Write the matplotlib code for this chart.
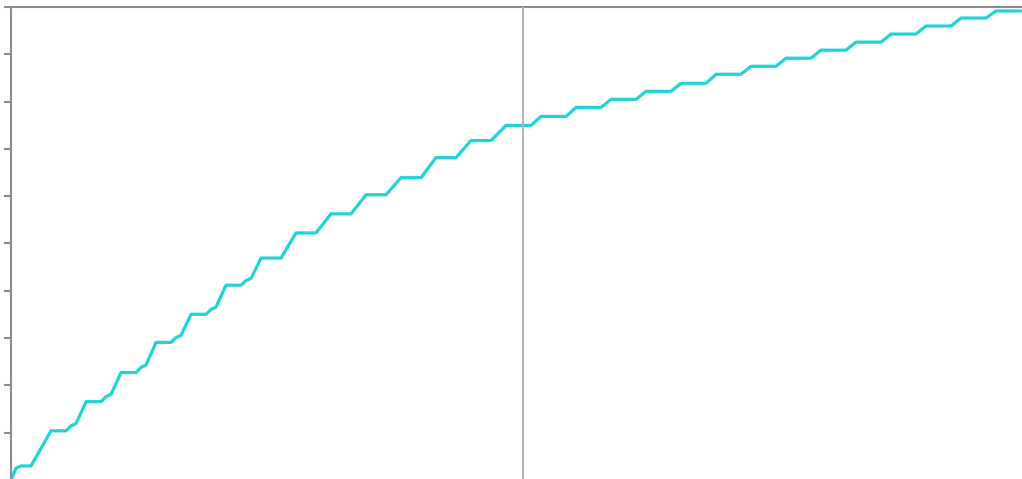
import matplotlib
matplotlib.use("Agg")
import matplotlib.pyplot as plt
import numpy as np

# Cumulative daily totals
cumulative = [
    0, 250, 297, 297, 297, 483, 669, 855,
    1040, 1040, 1040, 1040, 1145, 1194, 1422,
    1656, 1656, 1656, 1656, 1761, 1810, 2038,
    2272, 2272, 2272, 2272, 2380, 2431, 2667,
    2909, 2909, 2909, 2909, 3010, 3058, 3277,
    3503, 3503, 3503, 3503, 3608, 3657, 3885,
    4119, 4119, 4119, 4119, 4216, 4262, 4474,
    4692, 4692, 4692, 4692, 4692, 4869, 5046,
    5223, 5223, 5223, 5223, 5223, 5357, 5492,
    5626, 5626, 5626, 5626, 5626, 5761, 5895,
    6030, 6030, 6030, 6030, 6030, 6150, 6271,
    6391, 6391, 6391, 6391, 6391, 6532, 6674,
    6815, 6815, 6815, 6815, 6815, 6935, 7056,
    7176, 7176, 7176, 7176, 7176, 7282, 7389,
    7495, 7495, 7495, 7495, 7495, 7495, 7590,
    7686, 7686, 7686, 7686, 7686, 7686, 7781,
    7877, 7877, 7877, 7877, 7877, 7877, 7962,
    8047, 8047, 8047, 8047, 8047, 8047, 8132,
    8217, 8217, 8217, 8217, 8217, 8217, 8301,
    8386, 8386, 8386, 8386, 8386, 8386, 8481,
    8577, 8577, 8577, 8577, 8577, 8577, 8662,
    8747, 8747, 8747, 8747, 8747, 8747, 8832,
    8917, 8917, 8917, 8917, 8917, 8917, 9002,
    9087, 9087, 9087, 9087, 9087, 9087, 9172,
    9257, 9257, 9257, 9257, 9257, 9257, 9342,
    9427, 9427, 9427, 9427, 9427, 9427, 9512,
    9597, 9597, 9597, 9597, 9597, 9597, 9681,
    9766, 9766, 9766, 9766, 9766, 9766, 9840,
    9915, 9915, 9915, 9915, 9915, 9915,
]
days = np.arange(len(cumulative))

# Day marked by the vertical reference line
marker_day = 102.4

# y-axis tick values (labels hidden)
y_ticks = [0, 1000, 2000, 3000, 4000, 5000, 6000, 7000, 8000, 9000, 10000]

W, H = 1022, 479
fig = plt.figure(figsize=(W / 100, H / 100), dpi=100)
left_px, top_px, bottom_px = 10.5, 6.5, 480.0
ax = fig.add_axes([left_px / W, (H - bottom_px) / H,
                   (W - left_px) / W, (bottom_px - top_px) / H])

ax.plot(days, cumulative, color="#1fd3d6", linewidth=2.3,
        solid_joinstyle="round", solid_capstyle="round", zorder=2)
ax.axvline(marker_day, color="#b4b4b4", linewidth=1.5, zorder=3)

ax.set_xlim(-0.1, (W - 11) / 5.0)
ax.set_ylim(0, 10010)
ax.set_yticks(y_ticks)
ax.set_yticklabels([])
ax.set_xticks([])

for side in ("right", "bottom"):
    ax.spines[side].set_visible(False)
for side in ("left", "top"):
    ax.spines[side].set_color("#8c8c8c")
    ax.spines[side].set_linewidth(1.5)
ax.tick_params(axis="y", direction="out", length=5, width=1.5, color="#8c8c8c")

fig.savefig("out.png", dpi=100)
